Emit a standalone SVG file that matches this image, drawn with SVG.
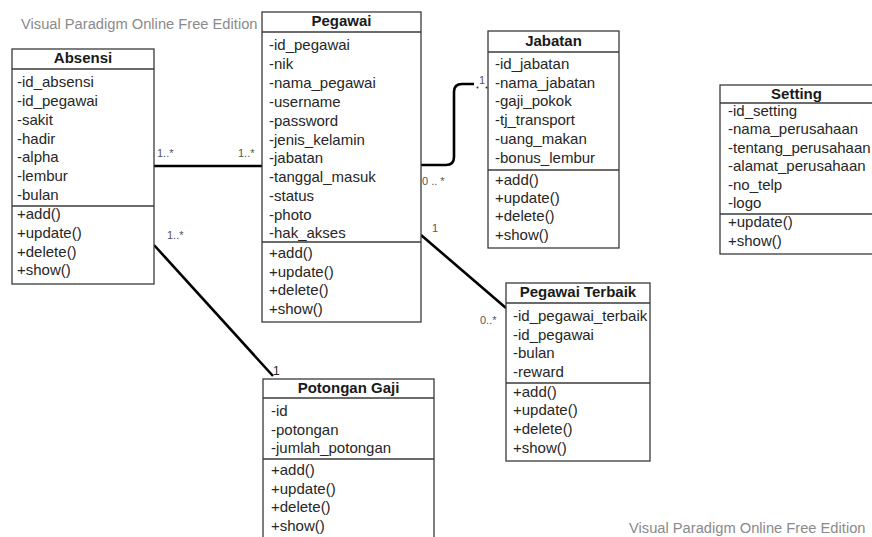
<svg xmlns="http://www.w3.org/2000/svg" width="872" height="537" viewBox="0 0 872 537">
<style>
.box{fill:#fff;stroke:#3a3a3a;stroke-width:1.3}
.sep{stroke:#3a3a3a;stroke-width:1.3}
.t{font-family:"Liberation Sans",Arial,sans-serif;font-size:15px;fill:#262626}
.h{font-family:"Liberation Sans",Arial,sans-serif;font-size:15px;font-weight:bold;fill:#1a1a1a;text-anchor:middle}
.m{font-family:"Liberation Sans",Arial,sans-serif;font-size:11px;fill:#555555}
.wm{font-family:"Liberation Sans",Arial,sans-serif;font-size:14.7px;fill:#8a8a8a}
.c{fill:none;stroke:#000;stroke-width:2.6}
</style>
<rect width="872" height="537" fill="#fff"/>
<text class="wm" x="21" y="29">Visual Paradigm Online Free Edition</text>
<text class="wm" x="629" y="533">Visual Paradigm Online Free Edition</text>

<g id="connectors">
<path class="c" d="M154,166 H262"/>
<path class="c" d="M421,165 H446 Q454,165 454,157 V92 Q454,84 462,84 H474"/>
<circle cx="477.5" cy="87.5" r="1" fill="#333"/>
<circle cx="486.5" cy="87.5" r="1" fill="#333"/>
<path class="c" d="M421,235 L506,308"/>
<path class="c" d="M154,245 L273,376"/>
<text class="m" x="157" y="157">1..*</text>
<text class="m" x="238" y="157">1..*</text>
<text class="m" x="422" y="185">0 .. *</text>
<text class="m" x="479" y="84">1</text>
<text class="m" x="432" y="232">1</text>
<text class="m" x="480" y="324">0..*</text>
<text class="m" x="167" y="239">1..*</text>
<text class="m" x="273" y="375" style="fill:#222;font-size:12px">1</text>
</g>

<g id="absensi">
<rect class="box" x="12" y="49" width="142" height="235"/>
<line class="sep" x1="12" y1="69" x2="154" y2="69"/>
<line class="sep" x1="12" y1="206" x2="154" y2="206"/>
<text class="h" x="83" y="63">Absensi</text>
<text class="t" x="17" y="87">-id_absensi</text>
<text class="t" x="17" y="106">-id_pegawai</text>
<text class="t" x="17" y="125">-sakit</text>
<text class="t" x="17" y="144">-hadir</text>
<text class="t" x="17" y="162">-alpha</text>
<text class="t" x="17" y="181">-lembur</text>
<text class="t" x="17" y="200">-bulan</text>
<text class="t" x="17" y="219">+add()</text>
<text class="t" x="17" y="238">+update()</text>
<text class="t" x="17" y="257">+delete()</text>
<text class="t" x="17" y="275">+show()</text>
</g>

<g id="pegawai">
<rect class="box" x="262" y="12" width="159" height="310"/>
<line class="sep" x1="262" y1="32" x2="421" y2="32"/>
<line class="sep" x1="262" y1="242" x2="421" y2="242"/>
<text class="h" x="341.5" y="26">Pegawai</text>
<text class="t" x="269" y="50">-id_pegawai</text>
<text class="t" x="269" y="69">-nik</text>
<text class="t" x="269" y="88">-nama_pegawai</text>
<text class="t" x="269" y="107">-username</text>
<text class="t" x="269" y="126">-password</text>
<text class="t" x="269" y="145">-jenis_kelamin</text>
<text class="t" x="269" y="163">-jabatan</text>
<text class="t" x="269" y="182">-tanggal_masuk</text>
<text class="t" x="269" y="201">-status</text>
<text class="t" x="269" y="220">-photo</text>
<text class="t" x="269" y="238">-hak_akses</text>
<text class="t" x="269" y="258">+add()</text>
<text class="t" x="269" y="277">+update()</text>
<text class="t" x="269" y="295">+delete()</text>
<text class="t" x="269" y="314">+show()</text>
</g>

<g id="jabatan">
<rect class="box" x="488" y="31" width="131" height="217"/>
<line class="sep" x1="488" y1="52" x2="619" y2="52"/>
<line class="sep" x1="488" y1="170" x2="619" y2="170"/>
<text class="h" x="553.5" y="46">Jabatan</text>
<text class="t" x="495" y="69">-id_jabatan</text>
<text class="t" x="495" y="88">-nama_jabatan</text>
<text class="t" x="495" y="106">-gaji_pokok</text>
<text class="t" x="495" y="125">-tj_transport</text>
<text class="t" x="495" y="144">-uang_makan</text>
<text class="t" x="495" y="163">-bonus_lembur</text>
<text class="t" x="495" y="185">+add()</text>
<text class="t" x="495" y="203">+update()</text>
<text class="t" x="495" y="221">+delete()</text>
<text class="t" x="495" y="240">+show()</text>
</g>

<g id="setting">
<rect class="box" x="720" y="85" width="153" height="169"/>
<line class="sep" x1="720" y1="103" x2="873" y2="103"/>
<line class="sep" x1="720" y1="214" x2="873" y2="214"/>
<text class="h" x="796.5" y="99">Setting</text>
<text class="t" x="728" y="116">-id_setting</text>
<text class="t" x="728" y="134">-nama_perusahaan</text>
<text class="t" x="728" y="153">-tentang_perusahaan</text>
<text class="t" x="728" y="171">-alamat_perusahaan</text>
<text class="t" x="728" y="190">-no_telp</text>
<text class="t" x="728" y="208">-logo</text>
<text class="t" x="728" y="227">+update()</text>
<text class="t" x="728" y="246">+show()</text>
</g>

<g id="pegawai-terbaik">
<rect class="box" x="506" y="283" width="144" height="178"/>
<line class="sep" x1="506" y1="303" x2="650" y2="303"/>
<line class="sep" x1="506" y1="383" x2="650" y2="383"/>
<text class="h" x="578" y="297">Pegawai Terbaik</text>
<text class="t" x="513" y="321">-id_pegawai_terbaik</text>
<text class="t" x="513" y="340">-id_pegawai</text>
<text class="t" x="513" y="358">-bulan</text>
<text class="t" x="513" y="377">-reward</text>
<text class="t" x="513" y="397">+add()</text>
<text class="t" x="513" y="415">+update()</text>
<text class="t" x="513" y="434">+delete()</text>
<text class="t" x="513" y="453">+show()</text>
</g>

<g id="potongan-gaji">
<rect class="box" x="263" y="379" width="171" height="165"/>
<line class="sep" x1="263" y1="398" x2="434" y2="398"/>
<line class="sep" x1="263" y1="459" x2="434" y2="459"/>
<text class="h" x="348.5" y="393">Potongan Gaji</text>
<text class="t" x="271" y="416">-id</text>
<text class="t" x="271" y="435">-potongan</text>
<text class="t" x="271" y="453">-jumlah_potongan</text>
<text class="t" x="271" y="475">+add()</text>
<text class="t" x="271" y="494">+update()</text>
<text class="t" x="271" y="512">+delete()</text>
<text class="t" x="271" y="531">+show()</text>
</g>
</svg>
